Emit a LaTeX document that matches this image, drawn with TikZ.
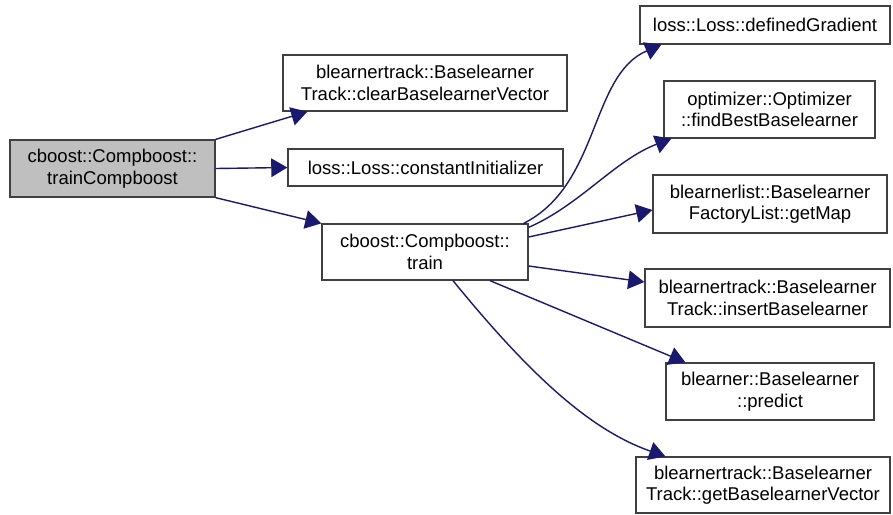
\documentclass[tikz,border=0pt]{standalone}
\usepackage{fontspec}
\setmainfont{Liberation Sans}
\usetikzlibrary{arrows.meta}
\definecolor{edgeblue}{HTML}{191970}
\definecolor{boxline}{HTML}{404040}
\definecolor{rootfill}{HTML}{BFBFBF}
\tikzset{
  fn/.style={draw=boxline, line width=1.3pt, fill=white, rectangle, align=center,
    inner sep=0pt, font=\fontsize{18.5}{21.5}\selectfont},
  call/.style={draw=edgeblue, line width=1.4pt, -{Triangle[scale=2.4]}},
}
\begin{document}
\begin{tikzpicture}[x=1pt, y=-1pt]
\useasboundingbox (0,0) rectangle (893,514);
% caller and callees
\node[fn, fill=rootfill, minimum width=205pt, minimum height=57pt] (tc) at (112.5,168.5) {cboost::Compboost::\\trainCompboost};
\node[fn, minimum width=284pt, minimum height=56pt] (clr) at (425,83) {blearnertrack::Baselearner\\Track::clearBaselearnerVector};
\node[fn, minimum width=275pt, minimum height=37pt] (ci) at (425.5,167.5) {loss::Loss::constantInitializer};
\node[fn, minimum width=206pt, minimum height=56pt] (tr) at (425,252) {cboost::Compboost::\\train};
\node[fn, minimum width=250pt, minimum height=38pt] (dg) at (765,25) {loss::Loss::definedGradient};
\node[fn, minimum width=211pt, minimum height=57pt] (fb) at (769.5,109.5) {optimizer::Optimizer\\::findBestBaselearner};
\node[fn, minimum width=234pt, minimum height=58pt] (gm) at (770,204) {blearnerlist::Baselearner\\FactoryList::getMap};
\node[fn, minimum width=245pt, minimum height=58pt] (ib) at (767.5,298) {blearnertrack::Baselearner\\Track::insertBaselearner};
\node[fn, minimum width=208pt, minimum height=57pt] (pr) at (770,391.5) {blearner::Baselearner\\::predict};
\node[fn, minimum width=254pt, minimum height=56pt] (gv) at (763,485) {blearnertrack::Baselearner\\Track::getBaselearnerVector};
% calls from trainCompboost
\draw[call] (tc.north east) -- ([xshift=25pt]clr.south west);
\draw[call] (tc.east) -- (ci.west);
\draw[call] (tc.south east) -- (tr.north west);
% calls from train
\draw[call] ([xshift=-5pt]tr.north east) .. controls (600,185) and (590,75) .. ([xshift=22pt]dg.south west);
\draw[call] ([yshift=-4pt]tr.north east) .. controls (580,205) and (615,160) .. ([xshift=8pt]fb.south west);
\draw[call] ([yshift=15pt]tr.east) -- ([yshift=-6pt]gm.west);
\draw[call] ([yshift=-14pt]tr.east) -- ([yshift=16pt]ib.west);
\draw[call] ([xshift=65pt]tr.south) -- ([xshift=20pt]pr.north west);
\draw[call] ([xshift=28pt]tr.south) .. controls (530,375) and (590,430) .. ([xshift=30pt]gv.north west);
\end{tikzpicture}
\end{document}
